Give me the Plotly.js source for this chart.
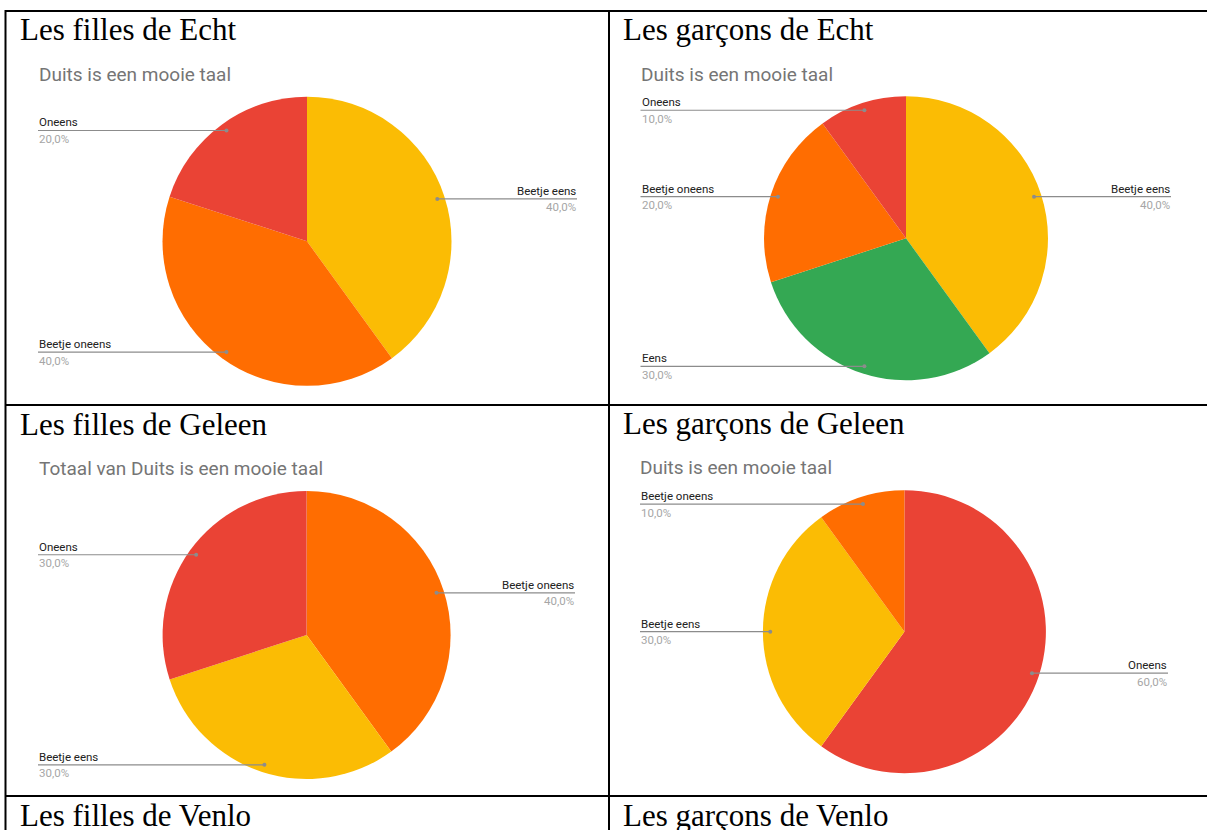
<!DOCTYPE html>
<html><head><meta charset="utf-8">
<script src="https://cdn.plot.ly/plotly-3.0.1.min.js"></script>
<style>html,body{margin:0;padding:0;background:#fff;overflow:hidden}#chart{width:1207px;height:830px}</style>
</head><body><div id="chart"></div>
<script>
// ---- data ----
const sectionTitles = ['Les filles de Echt', 'Les garçons de Echt', 'Les filles de Geleen', 'Les garçons de Geleen', 'Les filles de Venlo', 'Les garçons de Venlo'];
const chartTitles = ['Duits is een mooie taal', 'Duits is een mooie taal', 'Totaal van Duits is een mooie taal', 'Duits is een mooie taal'];
const fillesEchtLabels = ['Beetje eens', 'Beetje oneens', 'Oneens'];
const fillesEchtValues = [40, 40, 20];
const garconsEchtLabels = ['Beetje eens', 'Eens', 'Beetje oneens', 'Oneens'];
const garconsEchtValues = [40, 30, 20, 10];
const fillesGeleenLabels = ['Beetje oneens', 'Beetje eens', 'Oneens'];
const fillesGeleenValues = [40, 30, 30];
const garconsGeleenLabels = ['Oneens', 'Beetje eens', 'Beetje oneens'];
const garconsGeleenValues = [60, 30, 10];
const categoryColors = {'Beetje eens': '#FBBC04', 'Beetje oneens': '#FF6D01', 'Oneens': '#EA4335', 'Eens': '#34A853'};

// ---- layout constants (pixels) ----
const W = 1207, H = 830;
const px = x => x / W, py = y => 1 - y / H;
const panels = [
  {labels: fillesEchtLabels, values: fillesEchtValues, cx: 307, cy: 241.3, r: 144.5, left: 38, right: 577, titleX: 18.5, titleBase: 40, subX: 37.5, subBase: 81},
  {labels: garconsEchtLabels, values: garconsEchtValues, cx: 906, cy: 238.3, r: 142, left: 640.5, right: 1171, titleX: 622, titleBase: 40, subX: 640, subBase: 81},
  {labels: fillesGeleenLabels, values: fillesGeleenValues, cx: 306.6, cy: 635, r: 144, left: 38, right: 575, titleX: 18.5, titleBase: 435, subX: 37.5, subBase: 475},
  {labels: garconsGeleenLabels, values: garconsGeleenValues, cx: 904.4, cy: 631.7, r: 141.5, left: 640, right: 1168, titleX: 622, titleBase: 434, subX: 639.5, subBase: 474}
];
const extraTitles = [{x: 18.5, base: 826}, {x: 622, base: 826}];

const traces = [], shapes = [], annotations = [];
const serif = 'Liberation Serif, Times New Roman, serif';
const sans = 'Roboto, Arial, sans-serif';
const titleSize = 31, subSize = 19, labSize = 11.5;

function titleAnn(text, x, base) {
  annotations.push({text: text, xref: 'paper', yref: 'paper', x: px(x), y: py(base - 0.3375 * titleSize),
    xanchor: 'left', yanchor: 'middle', showarrow: false, borderpad: 0,
    font: {family: serif, size: titleSize, color: '#000'}});
}

panels.forEach((p, i) => {
  traces.push({type: 'pie', labels: p.labels, values: p.values, sort: false, direction: 'clockwise', rotation: 0,
    marker: {colors: p.labels.map(l => categoryColors[l]), line: {width: 0}},
    textinfo: 'none', hoverinfo: 'label+percent', showlegend: false,
    domain: {x: [px(p.cx - p.r), px(p.cx + p.r)], y: [py(p.cy + p.r), py(p.cy - p.r)]}});
  titleAnn(sectionTitles[i], p.titleX, p.titleBase);
  annotations.push({text: chartTitles[i], xref: 'paper', yref: 'paper', x: px(p.subX), y: py(p.subBase - 0.342 * subSize),
    xanchor: 'left', yanchor: 'middle', showarrow: false, borderpad: 0,
    font: {family: sans, size: subSize, color: '#757575'}});
  const total = p.values.reduce((a, b) => a + b, 0);
  let cum = 0;
  p.values.forEach((v, k) => {
    const theta = 2 * Math.PI * (cum + v / 2) / total;
    cum += v;
    const rho = 0.948 * p.r;
    const dx = p.cx + rho * Math.sin(theta), dy = p.cy - rho * Math.cos(theta);
    const rightSide = Math.sin(theta) >= 0;
    const edge = rightSide ? p.right : p.left;
    shapes.push({type: 'line', xref: 'paper', yref: 'paper', x0: px(dx), x1: px(edge), y0: py(dy), y1: py(dy),
      line: {color: '#8c8c8c', width: 1.2}, layer: 'above'});
    shapes.push({type: 'circle', xref: 'paper', yref: 'paper', x0: px(dx - 2), x1: px(dx + 2), y0: py(dy + 2), y1: py(dy - 2),
      fillcolor: '#8c8c8c', line: {width: 0}, layer: 'above'});
    const pct = (v / total * 100).toFixed(1).replace('.', ',') + '%';
    annotations.push({text: p.labels[k], xref: 'paper', yref: 'paper', x: px(edge), y: py(dy),
      xanchor: rightSide ? 'right' : 'left', yanchor: 'bottom', showarrow: false, borderpad: 0,
      font: {family: sans, size: labSize, color: '#222'}});
    annotations.push({text: pct, xref: 'paper', yref: 'paper', x: px(edge), y: py(dy + 0.5),
      xanchor: rightSide ? 'right' : 'left', yanchor: 'top', showarrow: false, borderpad: 0,
      font: {family: sans, size: labSize, color: '#a6a6a6'}});
  });
});
extraTitles.forEach((t, j) => titleAnn(sectionTitles[4 + j], t.x, t.base));

// table borders
const bw = 2;
[[5, 11, 1207, 11], [5, 405, 1207, 405], [5, 796, 1207, 796], [5.5, 10, 5.5, 830], [609, 10, 609, 830]].forEach(s => {
  shapes.push({type: 'line', xref: 'paper', yref: 'paper', x0: px(s[0]), y0: py(s[1]), x1: px(s[2]), y1: py(s[3]),
    line: {color: '#000', width: bw}, layer: 'above'});
});

Plotly.newPlot('chart', traces, {
  width: W, height: H, margin: {l: 0, r: 0, t: 0, b: 0}, paper_bgcolor: '#fff', plot_bgcolor: '#fff',
  showlegend: false, shapes: shapes, annotations: annotations
}, {displayModeBar: false, staticPlot: true});
</script></body></html>
